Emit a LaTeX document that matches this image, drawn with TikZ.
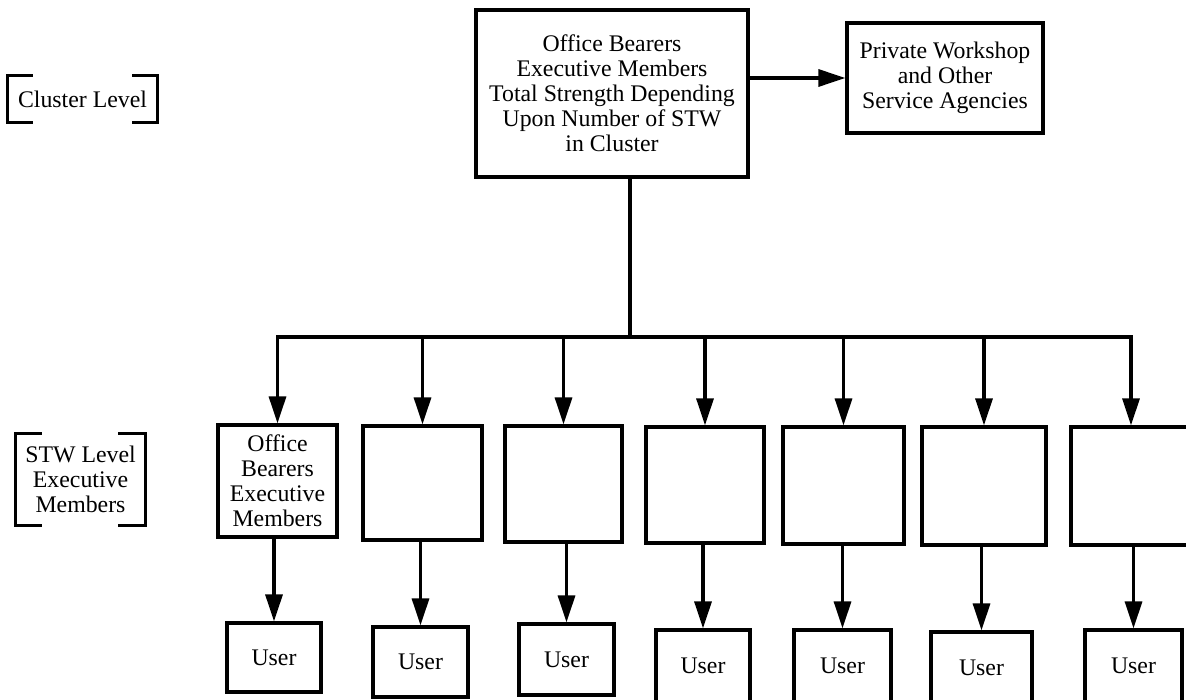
\documentclass[tikz,border=0pt]{standalone}
\usepackage{fontspec}
\setmainfont{Liberation Serif}
\usetikzlibrary{arrows.meta}

\begin{document}
\begin{tikzpicture}[x=1pt,y=-1pt,
  every node/.style={font=\fontsize{23.8}{25}\selectfont, align=center},
  box/.style={draw, line width=3.2pt, inner sep=0pt},
  link/.style={line width=3.2pt},
  bus/.style={link, line cap=rect},
  arr/.style={link, -{Triangle[length=27pt,width=17pt]}},
  lbl/.style={inner sep=0pt},
  brk/.style={line width=3pt}]
\useasboundingbox (0,0) rectangle (1186,700);
\fill[white] (0,0) rectangle (1186,700);

% level labels in square brackets
\node[lbl, minimum width=149pt, minimum height=46pt] (cl) at (82.5,99) {Cluster Level};
\draw[brk] ([xshift=25pt]cl.north west) -- (cl.north west) -- (cl.south west) -- ([xshift=25pt]cl.south west);
\draw[brk] ([xshift=-25pt]cl.north east) -- (cl.north east) -- (cl.south east) -- ([xshift=-25pt]cl.south east);

\node[lbl, minimum width=129pt, minimum height=91pt] (sl) at (80.5,479.5) {STW Level\\Executive\\Members};
\draw[brk] ([xshift=26pt]sl.north west) -- (sl.north west) -- (sl.south west) -- ([xshift=26pt]sl.south west);
\draw[brk] ([xshift=-27pt]sl.north east) -- (sl.north east) -- (sl.south east) -- ([xshift=-27pt]sl.south east);

% cluster level
\node[box, minimum width=272pt, minimum height=167pt] (top) at (612,93.5)
  {Office Bearers\\Executive Members\\Total Strength Depending\\Upon Number of STW\\in Cluster};
\node[box, minimum width=196pt, minimum height=110pt] (pw) at (945,78)
  {Private Workshop\\and Other\\Service Agencies};
\draw[arr] (top.east |- pw.west) -- (pw.west);

% STW level boxes
\node[box, minimum width=119pt, minimum height=112pt] (s1) at (277.5,481)
  {Office\\Bearers\\Executive\\Members};
\foreach \i/\x/\y/\w/\h in {2/422.5/483/119/114, 3/563.5/484/117/116, 4/705/485/118/116,
                            5/843.5/485.5/121/117, 6/984/486/124/118, 7/1131/486/120/118}
  \node[box, minimum width=\w pt, minimum height=\h pt] (s\i) at (\x,\y) {};

% users
\foreach \i/\x/\y/\w/\h in {1/274/657.5/94/69, 2/420.5/662/95/70, 3/566.5/659.5/95/71,
                            4/703/666/94/72, 5/842.5/666/97/72, 6/981.5/667.5/101/71,
                            7/1133.5/666/97/72}
  \node[box, minimum width=\w pt, minimum height=\h pt] (u\i) at (\x,\y) {User};

% distribution bus
\coordinate (j) at (630,337);
\draw[link] (top.south -| j) -- (j);
\draw[bus] (s1.north |- j) -- (s7.north |- j);
\foreach \i in {1,...,7} {
  \draw[arr] (s\i.north |- j) -- (s\i.north);
  \draw[arr] (u\i.north |- s\i.south) -- (u\i.north);
}
\end{tikzpicture}
\end{document}
